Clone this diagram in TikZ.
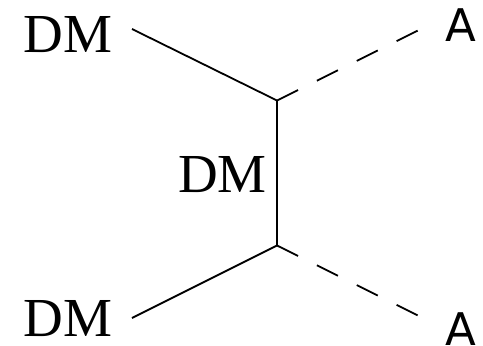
\documentclass[tikz,border=0pt]{standalone}
\usepackage{fontspec}
\setmainfont{Liberation Serif}
\setsansfont{DejaVu Sans}
\begin{document}
\begin{tikzpicture}[x=1pt,y=-1pt]
\tikzstyle{dm} = [font=\fontsize{55}{55}\selectfont, inner sep=0, outer sep=0]
\tikzstyle{axion} = [font=\sffamily\fontsize{45}{45}\selectfont, inner sep=0, outer sep=0]
\tikzstyle{fermion} = [line width=1.8pt]
\tikzstyle{scalar} = [line width=1.8pt, dash pattern=on 23.5pt off 21pt]
\useasboundingbox (0,0) rectangle (483,346);

\coordinate (vertex1) at (277,100.5);
\coordinate (vertex2) at (277,245.5);

\node (dm1) [dm] at (68,34.5) {DM};
\node (dm2) [dm] at (222.5,175) {DM};
\node (dm3) [dm] at (68,319) {DM};
\node (a1) [axion] at (461,25.5) {A};
\node (a2) [axion] at (461,329) {A};

\coordinate (end1) at (132,29);
\coordinate (end2) at (132,318);
\coordinate (end3) at (419,30);
\coordinate (end4) at (419,316);

\draw [fermion] (end1) -- (vertex1);
\draw [fermion] (vertex1) -- (vertex2);
\draw [fermion] (end2) -- (vertex2);
\draw [scalar] (vertex1) -- (end3);
\draw [scalar] (vertex2) -- (end4);
\end{tikzpicture}
\end{document}
